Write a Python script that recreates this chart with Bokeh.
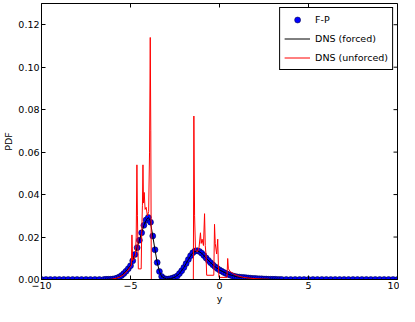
import math
from bokeh.plotting import figure
from bokeh.models import FixedTicker, Range1d, Legend, LegendItem
from bokeh.embed import file_html
from bokeh.resources import INLINE

# ---- data ----
x_ticks = [-10, -5, 0, 5, 10]
x_tick_labels = ["\u221210", "\u22125", "0", "5", "10"]
y_ticks = [0.0, 0.02, 0.04, 0.06, 0.08, 0.10, 0.12]
y_tick_labels = ["0.00", "0.02", "0.04", "0.06", "0.08", "0.10", "0.12"]
x_lo, x_hi = -10, 10
y_lo, y_hi = 0.0, 0.13

# F-P (dots)
fp_x_left = [-10.0, -9.75, -9.5, -9.25, -9.0, -8.75, -8.5, -8.25, -8.0, -7.75,
             -7.5, -7.25, -7.0, -6.75]
fp_y_left = [0.0] * 14
fp_x_mid = [-6.5, -6.375, -6.25, -6.125, -6.0, -5.875, -5.75, -5.625, -5.5, -5.375,
            -5.25, -5.125, -5.0, -4.875, -4.75, -4.625, -4.5, -4.375, -4.25, -4.125,
            -4.0, -3.875, -3.75, -3.625, -3.5, -3.375, -3.25, -3.125, -3.0, -2.875,
            -2.75, -2.625, -2.5, -2.375, -2.25, -2.125, -2.0, -1.875, -1.75, -1.625,
            -1.5, -1.375, -1.25, -1.125, -1.0, -0.875, -0.75, -0.625, -0.5, -0.375,
            -0.25, -0.125, 0.0, 0.125, 0.25, 0.375, 0.5, 0.625, 0.75, 0.875,
            1.0, 1.125, 1.25, 1.375, 1.5, 1.625, 1.75, 1.875, 2.0, 2.125,
            2.25, 2.375, 2.5, 2.625, 2.75, 2.875, 3.0, 3.125, 3.25, 3.375, 3.5]
fp_y_mid = [0.0000, 0.0001, 0.0001, 0.0001, 0.0002, 0.0004, 0.0007, 0.0012, 0.0019, 0.0028,
            0.0039, 0.0051, 0.0065, 0.0088, 0.0118, 0.0150, 0.0185, 0.0220, 0.0255, 0.0280,
            0.0292, 0.0270, 0.0205, 0.0140, 0.0080, 0.0038, 0.0014, 0.0005, 0.0002, 0.0002,
            0.0004, 0.0007, 0.0011, 0.0016, 0.0028, 0.0041, 0.0057, 0.0075, 0.0094, 0.0112,
            0.0126, 0.0134, 0.0136, 0.0132, 0.0124, 0.0113, 0.0101, 0.0090, 0.0079, 0.0069,
            0.0060, 0.0052, 0.0045, 0.0039, 0.0033, 0.0028, 0.0024, 0.0020, 0.0017, 0.0014,
            0.0012, 0.0011, 0.0010, 0.0009, 0.0008, 0.0007, 0.0006, 0.0005, 0.0005, 0.0004,
            0.0003, 0.0003, 0.0002, 0.0002, 0.0001, 0.0001, 0.0001, 0.0001, 0.0000, 0.0000,
            0.0000]
fp_x_right = [3.75, 4.0, 4.25, 4.5, 4.75, 5.0, 5.25, 5.5, 5.75, 6.0, 6.25, 6.5, 6.75,
              7.0, 7.25, 7.5, 7.75, 8.0, 8.25, 8.5, 8.75, 9.0, 9.25, 9.5, 9.75, 10.0]
fp_y_right = [0.0] * 26

# DNS (forced) - black line
dnsf_x = [-10, -7, -6.5, -6.0, -5.75, -5.5, -5.25, -5.0, -4.75, -4.5,
          -4.25, -4.1, -4.0, -3.9, -3.75, -3.625, -3.5, -3.375, -3.25, -3.0,
          -2.75, -2.5, -2.25, -2.0, -1.75, -1.5, -1.25, -1.0, -0.75, -0.5,
          -0.25, 0.0, 0.5, 1.0, 1.5, 2.0, 2.5, 3.0, 4.0, 10]
dnsf_y = [0, 0, 0, 0.0002, 0.0007, 0.0019, 0.0039, 0.0065, 0.0118, 0.0185,
          0.0255, 0.0282, 0.0292, 0.0280, 0.0205, 0.0140, 0.0080, 0.0038, 0.0014, 0.0002,
          0.0004, 0.0011, 0.0028, 0.0057, 0.0094, 0.0126, 0.0136, 0.0124, 0.0101, 0.0079,
          0.0060, 0.0045, 0.0024, 0.0012, 0.0008, 0.0005, 0.0002, 0.0001, 0, 0]

# DNS (unforced) - red line
dnsu_x = [-6.2, -6.0, -5.8, -5.6, -5.4, -5.2, -5.05, -4.95, -4.92, -4.88,
          -4.8, -4.72, -4.68, -4.64, -4.61, -4.58, -4.56, -4.4, -4.37, -4.33,
          -4.3, -4.27, -4.23, -4.18, -4.12, -4.05, -3.98, -3.93, -3.89, -3.86,
          -3.83, -1.47, -1.44, -1.40, -1.35, -1.25, -1.15, -1.07, -1.03, -0.98,
          -0.90, -0.84, -0.80, -0.76, -0.72, -0.32, -0.28, -0.24, -0.16, -0.10,
          -0.06, -0.03, 0.42, 0.46, 0.50, 0.60, 0.80, 1.0, 1.3, 1.6,
          2.0, 2.4, 2.8]
dnsu_y = [0.0, 0.0002, 0.0006, 0.0012, 0.0022, 0.0038, 0.0055, 0.0065, 0.021, 0.009,
          0.0095, 0.012, 0.02, 0.054, 0.03, 0.014, 0.005, 0.005, 0.022, 0.035,
          0.054, 0.036, 0.041, 0.033, 0.034, 0.030, 0.032, 0.06, 0.114, 0.07,
          0.0, 0.0, 0.077, 0.03, 0.014, 0.013, 0.015, 0.022, 0.017, 0.019,
          0.016, 0.031, 0.016, 0.012, 0.002, 0.002, 0.026, 0.017, 0.012, 0.019,
          0.006, 0.001, 0.001, 0.0099, 0.005, 0.0038, 0.0026, 0.0018, 0.0011, 0.0007,
          0.0004, 0.0002, 0.0001]

fp_x = fp_x_left + fp_x_mid + fp_x_right
fp_y = fp_y_left + fp_y_mid + fp_y_right

FONT = "DejaVu Sans"
FS = "9.5px"

p = figure(width=399, height=306, output_backend="svg", toolbar_location=None,
           x_range=Range1d(x_lo, x_hi), y_range=Range1d(y_lo, y_hi),
           min_border_left=2, min_border_right=2, min_border_top=3, min_border_bottom=0)
p.grid.visible = False
p.outline_line_color = "black"
p.outline_line_alpha = 1
p.outline_line_width = 1
p.background_fill_color = "white"

for ax in p.xaxis:
    ax.ticker = FixedTicker(ticks=x_ticks)
    ax.major_label_overrides = dict(zip(x_ticks, x_tick_labels))
    ax.axis_label = "y"
for ax in p.yaxis:
    ax.ticker = FixedTicker(ticks=y_ticks)
    ax.major_label_overrides = dict(zip(y_ticks, y_tick_labels))
    ax.axis_label = "PDF"

for ax in list(p.xaxis) + list(p.yaxis):
    ax.major_tick_in = 4
    ax.major_tick_out = 0
    ax.minor_tick_in = 0
    ax.minor_tick_out = 0
    ax.major_tick_line_color = "black"
    ax.axis_line_color = "black"
    ax.major_label_text_font = FONT
    ax.major_label_text_font_size = FS
    ax.major_label_text_color = "black"
    ax.major_label_standoff = 2
    ax.axis_label_text_font = FONT
    ax.axis_label_text_font_size = FS
    ax.axis_label_text_font_style = "normal"
    ax.axis_label_text_color = "black"
    ax.axis_label_standoff = 1

# inward tick marks on the top and right frame edges (no labels), clipped by the frame
p.scatter(x_ticks, [y_hi] * len(x_ticks), marker="dash", angle=math.pi / 2, size=8,
          line_color="black", line_width=1)
p.scatter([x_hi] * len(y_ticks), y_ticks, marker="dash", size=8,
          line_color="black", line_width=1)

r_fp = p.scatter(fp_x, fp_y, size=6, fill_color="#0000ff", line_color="#000033",
                 line_width=0.5, marker="circle")
r_f = p.line(dnsf_x, dnsf_y, line_color="black", line_width=1)
r_u = p.line(dnsu_x, dnsu_y, line_color="#ff0000", line_width=1)

legend = Legend(items=[LegendItem(label="F-P", renderers=[r_fp]),
                       LegendItem(label="DNS (forced)", renderers=[r_f]),
                       LegendItem(label="DNS (unforced)", renderers=[r_u])],
                location="top_right")
legend.border_line_color = "black"
legend.border_line_alpha = 1
legend.border_line_width = 1
legend.background_fill_alpha = 1
legend.padding = 4
legend.spacing = 4
legend.label_height = 15
legend.glyph_height = 15
legend.glyph_width = 26
legend.label_standoff = 5
legend.margin = 4
legend.label_text_font = FONT
legend.label_text_font_size = FS
legend.label_text_color = "black"
p.add_layout(legend)

open("out.html", "w").write(file_html(p, INLINE))
